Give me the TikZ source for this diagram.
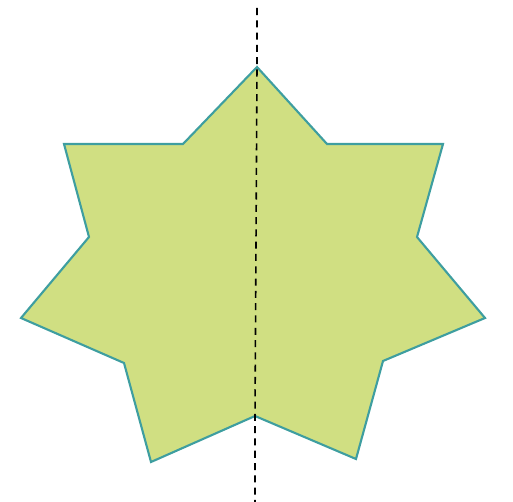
\documentclass[tikz,border=0pt]{standalone}
\usepackage{xcolor}
\usepackage{tikz}
\usetikzlibrary{calc}

\definecolor{starfill}{RGB}{208,223,130}
\definecolor{staredge}{RGB}{62,158,160}

\begin{document}
\begin{tikzpicture}[
  x=0.02cm, y=-0.02cm,
  starshape/.style={fill=starfill, draw=staredge, line width=1.2pt, line join=miter},
  axisline/.style={dashed, black, line width=0.9pt, dash pattern=on 4pt off 3pt},
]
\useasboundingbox (0,0) rectangle (513,502);

% Outer and inner corners
\coordinate (top) at (257,67);
\coordinate (ir1) at (327,144);
\coordinate (ur) at (443,144);
\coordinate (ir2) at (417,237);
\coordinate (rt) at (485,318);
\coordinate (ir3) at (383,361);
\coordinate (lr) at (356,459);
\coordinate (bot) at (255,416);
\coordinate (ll) at (151,462);
\coordinate (il3) at (124,363);
\coordinate (lt) at (21,318);
\coordinate (il2) at (89,237);
\coordinate (ul) at (64,144);
\coordinate (il1) at (183,144);

% Star
\draw[starshape] (top) -- (ir1) -- (ur) -- (ir2) -- (rt) -- (ir3) -- (lr)
  -- (bot) -- (ll) -- (il3) -- (lt) -- (il2) -- (ul) -- (il1) -- cycle;

% Symmetry axis
\coordinate (axtop) at (257,8);
\coordinate (axbot) at (255,502);
\draw[axisline] (axtop) -- (top) -- (bot) -- (axbot);

\end{tikzpicture}
\end{document}
